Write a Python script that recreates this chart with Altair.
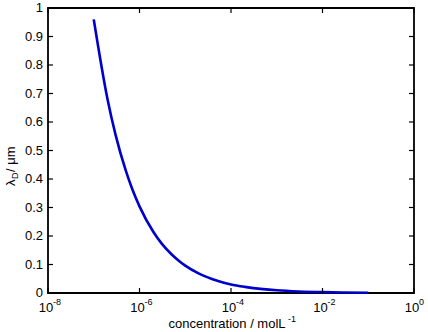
import altair as alt
import pandas as pd

# curve values
conc = [1e-7, 2e-7, 3e-7, 5e-7, 7e-7, 1e-6, 2e-6, 3e-6, 5e-6, 7e-6, 1e-5,
        2e-5, 5e-5, 1e-4, 2e-4, 5e-4, 1e-3, 3e-3, 1e-2, 3e-2, 1e-1]
debye = [0.96, 0.68, 0.555, 0.43, 0.363, 0.304, 0.215, 0.175, 0.136, 0.115, 0.096,
         0.068, 0.043, 0.030, 0.0215, 0.0136, 0.0096, 0.0055, 0.003, 0.0018, 0.001]

x_ticks = [1e-8, 1e-6, 1e-4, 1e-2, 1e0]
x_exps = ["-8", "-6", "-4", "-2", "0"]
y_ticks = [0, 0.1, 0.2, 0.3, 0.4, 0.5, 0.6, 0.7, 0.8, 0.9, 1.0]
y_labels = ["0", "0.1", "0.2", "0.3", "0.4", "0.5", "0.6", "0.7", "0.8", "0.9", "1"]

W, H = 366, 285
FONT = "Liberation Sans"

df = pd.DataFrame({"c": conc, "l": debye})
xt = pd.DataFrame({"v": x_ticks, "e": x_exps})
yt = pd.DataFrame({"v": y_ticks, "t": y_labels})
one = pd.DataFrame({"k": [0]})

xs = alt.Scale(type="log", domain=[1e-8, 1], nice=False)
ys = alt.Scale(domain=[0, 1], nice=False)

curve = alt.Chart(df).mark_line(color="#0000CC", strokeWidth=2.6, interpolate="monotone").encode(
    x=alt.X("c:Q", scale=xs, axis=None),
    y=alt.Y("l:Q", scale=ys, axis=None),
)

tick_style = dict(color="black", strokeWidth=1.2)
yl = alt.Chart(yt).mark_rule(**tick_style).encode(y=alt.Y("v:Q", scale=ys, axis=None), x=alt.value(0), x2=alt.value(5))
yr = alt.Chart(yt).mark_rule(**tick_style).encode(y=alt.Y("v:Q", scale=ys, axis=None), x=alt.value(W - 5), x2=alt.value(W))
xb = alt.Chart(xt).mark_rule(**tick_style).encode(x=alt.X("v:Q", scale=xs, axis=None), y=alt.value(H - 5), y2=alt.value(H))
xtp = alt.Chart(xt).mark_rule(**tick_style).encode(x=alt.X("v:Q", scale=xs, axis=None), y=alt.value(0), y2=alt.value(5))

y_lab = alt.Chart(yt).mark_text(font=FONT, fontSize=13, align="right", baseline="middle", color="black").encode(
    y=alt.Y("v:Q", scale=ys, axis=None), x=alt.value(-5), text="t:N")

x_base = alt.Chart(xt).mark_text(font=FONT, fontSize=13, align="center", baseline="alphabetic", color="black", dx=-2).encode(
    x=alt.X("v:Q", scale=xs, axis=None), y=alt.value(H + 19), text=alt.value("10"))
x_exp = alt.Chart(xt).mark_text(font=FONT, fontSize=9, align="left", baseline="alphabetic", color="black", dx=5).encode(
    x=alt.X("v:Q", scale=xs, axis=None), y=alt.value(H + 12), text="e:N")

TC = W / 2 - 4
xtitle = alt.Chart(one).mark_text(font=FONT, fontSize=13, align="center", baseline="alphabetic", color="black").encode(
    x=alt.value(TC), y=alt.value(H + 35), text=alt.value("concentration / molL"))
xtitle_sup = alt.Chart(one).mark_text(font=FONT, fontSize=9, align="left", baseline="alphabetic", color="black").encode(
    x=alt.value(TC + 61), y=alt.value(H + 29), text=alt.value("-1"))

ytitle1 = alt.Chart(one).mark_text(font=FONT, fontSize=13, align="left", baseline="alphabetic", angle=270, color="black").encode(
    x=alt.value(-33), y=alt.value(178), text=alt.value("λ"))
ytitle2 = alt.Chart(one).mark_text(font=FONT, fontSize=9, align="left", baseline="alphabetic", angle=270, color="black").encode(
    x=alt.value(-30), y=alt.value(171), text=alt.value("D"))
ytitle3 = alt.Chart(one).mark_text(font=FONT, fontSize=13, align="left", baseline="alphabetic", angle=270, color="black").encode(
    x=alt.value(-33), y=alt.value(164), text=alt.value(" / μm"))

chart = alt.layer(curve, yl, yr, xb, xtp, y_lab, x_base, x_exp, xtitle, xtitle_sup, ytitle1, ytitle2, ytitle3).properties(
    width=W, height=H,
    background="white",
    autosize=alt.AutoSizeParams(type="none"),
    padding={"left": 48, "top": 8, "right": 14, "bottom": 39},
).configure_view(stroke="black", strokeWidth=1.8)

chart.save("out.html", embed_options={"renderer": "svg", "actions": False})
